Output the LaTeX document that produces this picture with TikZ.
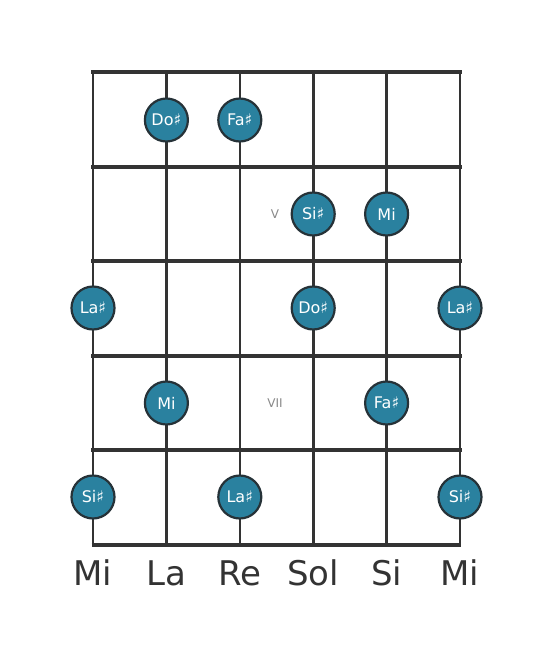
\documentclass[tikz,border=0pt]{standalone}
\usepackage{fontspec}
\setmainfont{DejaVu Sans}
\definecolor{note}{HTML}{2A819F}
\definecolor{ink}{HTML}{333333}
\definecolor{rim}{HTML}{263238}
\definecolor{fretlbl}{HTML}{888888}
\tikzset{
  strline/.style={draw=ink, line width=2.6pt},
  fretline/.style={draw=ink, line width=4.8pt},
  dot/.style={circle, fill=note, draw=rim, line width=2.2pt, minimum size=43pt, inner sep=0pt, text=white, font=\fontsize{16}{16}\selectfont},
  strname/.style={text=ink, font=\fontsize{34}{34}\selectfont, anchor=base},
  fretnum/.style={text=fretlbl, font=\fontsize{12}{12}\selectfont}
}
\begin{document}
\begin{tikzpicture}[x=1pt, y=-1pt]
\useasboundingbox (0,0) rectangle (553,656);
% string coordinates
\foreach \i/\x in {1/93,2/166.4,3/239.8,4/313.2,5/386.6,6/460} {
  \coordinate (t\i) at (\x,72);
  \coordinate (b\i) at (\x,545);
  \draw[strline] (t\i) -- (b\i);
}
\foreach \j/\y in {1/72,2/167,3/261,4/356,5/450} {
  \coordinate (fl\j) at (91,\y);
  \coordinate (fr\j) at (462,\y);
  \draw[fretline] (fl\j) -- (fr\j);
}
\coordinate (bl) at (91.7,545);
\coordinate (br) at (461.3,545);
\draw[draw=ink, line width=3.6pt] (bl) -- (br);
% notes
\node[dot] (n1) at (166.4,120) {Do♯};
\node[dot] (n2) at (239.8,120) {Fa♯};
\node[dot] (n3) at (313.2,214) {Si♯};
\node[dot] (n4) at (386.6,214) {Mi};
\node[dot] (n5) at (93,308) {La♯};
\node[dot] (n6) at (313.2,308) {Do♯};
\node[dot] (n7) at (460,308) {La♯};
\node[dot] (n8) at (166.4,403) {Mi};
\node[dot] (n9) at (386.6,403) {Fa♯};
\node[dot] (n10) at (93,497) {Si♯};
\node[dot] (n11) at (239.8,497) {La♯};
\node[dot] (n12) at (460,497) {Si♯};
% fret numbers
\node[fretnum] (v) at (275,214) {V};
\node[fretnum] (vii) at (275,403) {VII};
% string names
\node[strname] (s1) at (93,585) {Mi};
\node[strname] (s2) at (166.4,585) {La};
\node[strname] (s3) at (239.8,585) {Re};
\node[strname] (s4) at (313.2,585) {Sol};
\node[strname] (s5) at (386.6,585) {Si};
\node[strname] (s6) at (460,585) {Mi};
\end{tikzpicture}
\end{document}
